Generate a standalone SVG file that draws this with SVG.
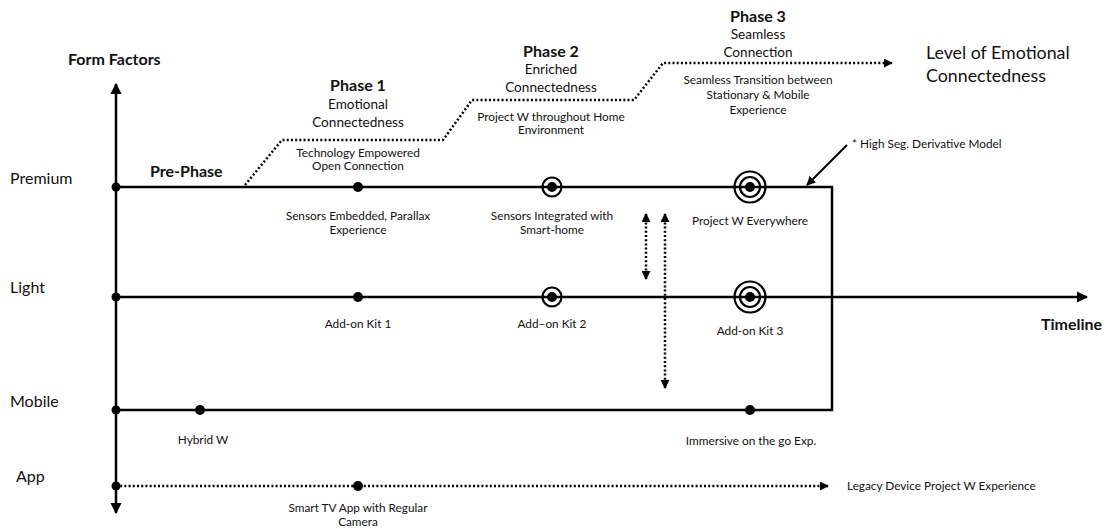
<svg xmlns="http://www.w3.org/2000/svg" width="1111" height="529" viewBox="0 0 1111 529">
  <style>
    text { font-family: Lato, "Open Sans", sans-serif; fill: #111; }
    .sm { font-size: 11.8px; }
    .md { font-size: 13.6px; }
    .ax { font-size: 16px; }
    .lg { font-size: 17.8px; }
    .b { font-weight: bold; font-size: 16px; }
    .c { text-anchor: middle; }
    .solid { stroke: #000; stroke-width: 2.5; fill: none; }
    .dot { stroke: #000; stroke-width: 2.5; fill: none; stroke-dasharray: 2 2.2; }
    .ring { stroke: #000; stroke-width: 2.2; fill: none; }
  </style>
  <defs>
    <marker id="ah" viewBox="0 0 10 10" refX="9" refY="5" markerWidth="4.5" markerHeight="4.5" orient="auto-start-reverse" markerUnits="strokeWidth">
      <path d="M0,0 L10,5 L0,10 z" fill="#000"/>
    </marker>
    <marker id="ahs" viewBox="0 0 10 10" refX="9" refY="5" markerWidth="3.6" markerHeight="3.6" orient="auto-start-reverse" markerUnits="strokeWidth">
      <path d="M0,0 L10,5 L0,10 z" fill="#000"/>
    </marker>
  </defs>

  <!-- axes and timelines -->
  <g id="connectors">
    <line class="solid" x1="116" y1="486" x2="116" y2="84" marker-end="url(#ah)"/>
    <line class="solid" x1="116" y1="486" x2="116" y2="513" marker-end="url(#ah)"/>
    <polyline class="solid" points="116,187 832,187 832,410 116,410"/>
    <line class="solid" x1="116" y1="297" x2="1087" y2="297" marker-end="url(#ah)"/>
    <line class="dot" x1="116" y1="486" x2="828" y2="486" marker-end="url(#ahs)"/>
    <!-- emotional connectedness staircase -->
    <polyline class="dot" points="245,185 282,140 443,140 472,100 634,100 663,63 892,63" marker-end="url(#ahs)"/>
    <!-- movement between form factors -->
    <line class="dot" x1="646" y1="214" x2="646" y2="279" marker-start="url(#ahs)" marker-end="url(#ahs)"/>
    <line class="dot" x1="665" y1="214" x2="665" y2="388" marker-start="url(#ahs)" marker-end="url(#ahs)"/>
    <!-- derivative model pointer -->
    <line x1="847" y1="145" x2="807" y2="185" stroke="#000" stroke-width="2" marker-end="url(#ah)"/>
  </g>

  <!-- axis intersection dots -->
  <g id="axis-dots">
    <circle cx="116" cy="187" r="4.5"/>
    <circle cx="116" cy="297" r="4.5"/>
    <circle cx="116" cy="410" r="4.5"/>
    <circle cx="116" cy="486" r="4.5"/>
  </g>

  <g id="axis-labels">
    <text class="b" x="68" y="65">Form Factors</text>
    <text class="ax" x="10" y="184">Premium</text>
    <text class="ax" x="10" y="293">Light</text>
    <text class="ax" x="10" y="407">Mobile</text>
    <text class="ax" x="16" y="482">App</text>
    <text class="b" x="1041" y="330">Timeline</text>
    <text class="lg" x="926" y="59">Level of Emotional</text>
    <text class="lg" x="926" y="82">Connectedness</text>
  </g>

  <g id="pre-phase">
    <text class="b" x="150" y="177">Pre-Phase</text>
  </g>

  <g id="phase-1">
    <text class="b c" x="358" y="91">Phase 1</text>
    <text class="md c" x="358" y="109">Emotional</text>
    <text class="md c" x="358" y="127">Connectedness</text>
    <text class="sm c" x="358" y="157">Technology Empowered</text>
    <text class="sm c" x="358" y="170">Open Connection</text>
  </g>

  <g id="phase-2">
    <text class="b c" x="551" y="57">Phase 2</text>
    <text class="md c" x="551" y="74">Enriched</text>
    <text class="md c" x="551" y="92">Connectedness</text>
    <text class="sm c" x="551" y="121">Project W throughout Home</text>
    <text class="sm c" x="551" y="134">Environment</text>
  </g>

  <g id="phase-3">
    <text class="b c" x="758" y="22">Phase 3</text>
    <text class="md c" x="758" y="39">Seamless</text>
    <text class="md c" x="758" y="57">Connection</text>
    <text class="sm c" x="758" y="84">Seamless Transition between</text>
    <text class="sm c" x="758" y="99">Stationary &amp; Mobile</text>
    <text class="sm c" x="758" y="114">Experience</text>
  </g>

  <g id="derivative-note">
    <text class="sm" x="852" y="148">* High Seg. Derivative Model</text>
  </g>

  <g id="premium-sensors-embedded">
    <circle cx="358" cy="187" r="5"/>
    <text class="sm c" x="358" y="220">Sensors Embedded, Parallax</text>
    <text class="sm c" x="358" y="234">Experience</text>
  </g>
  <g id="premium-smart-home">
    <circle class="ring" cx="552" cy="187" r="9.5"/>
    <circle cx="552" cy="187" r="5"/>
    <text class="sm c" x="552" y="220">Sensors Integrated with</text>
    <text class="sm c" x="552" y="234">Smart-home</text>
  </g>
  <g id="premium-everywhere">
    <circle class="ring" cx="750" cy="187" r="15.5"/>
    <circle class="ring" cx="750" cy="187" r="10"/>
    <circle cx="750" cy="187" r="5"/>
    <text class="sm c" x="750" y="225">Project W Everywhere</text>
  </g>

  <g id="light-kit-1">
    <circle cx="358" cy="297" r="5"/>
    <text class="sm c" x="358" y="328">Add-on Kit 1</text>
  </g>
  <g id="light-kit-2">
    <circle class="ring" cx="552" cy="297" r="9.5"/>
    <circle cx="552" cy="297" r="5"/>
    <text class="sm c" x="552" y="328">Add–on Kit 2</text>
  </g>
  <g id="light-kit-3">
    <circle class="ring" cx="750" cy="297" r="15.5"/>
    <circle class="ring" cx="750" cy="297" r="10"/>
    <circle cx="750" cy="297" r="5"/>
    <text class="sm c" x="750" y="335">Add-on Kit 3</text>
  </g>

  <g id="mobile-hybrid">
    <circle cx="200" cy="410" r="5"/>
    <text class="sm c" x="203" y="444">Hybrid W</text>
  </g>
  <g id="mobile-immersive">
    <circle cx="750" cy="410" r="5"/>
    <text class="sm c" x="751" y="445">Immersive on the go Exp.</text>
  </g>

  <g id="app-smart-tv">
    <circle cx="358" cy="486" r="5"/>
    <text class="sm c" x="358" y="512">Smart TV App with Regular</text>
    <text class="sm c" x="358" y="526">Camera</text>
  </g>
  <g id="app-legacy">
    <text class="sm" x="847" y="490">Legacy Device Project W Experience</text>
  </g>
</svg>
